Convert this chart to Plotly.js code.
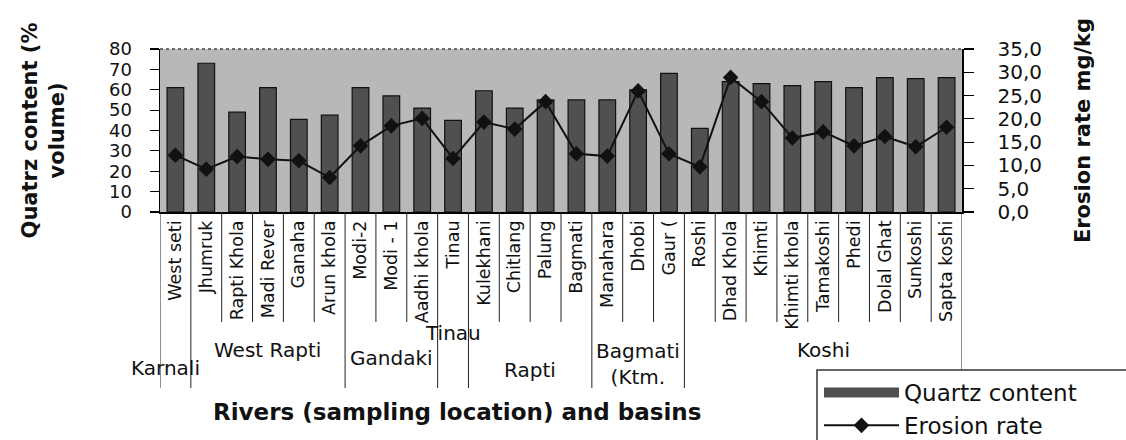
<!DOCTYPE html>
<html>
<head>
<meta charset="utf-8">
<script src="https://cdn.plot.ly/plotly-3.0.1.min.js"></script>
<style>
  html, body { margin: 0; padding: 0; background: #fff; }
  #chart { width: 1126px; height: 440px; }
</style>
</head>
<body>
<div id="chart"></div>
<script>
// Sampling locations, left to right
const rivers = [
  'West seti', 'Jhumruk', 'Rapti Khola', 'Madi Rever', 'Ganaha', 'Arun khola',
  'Modi-2', 'Modi - 1', 'Aadhi khola', 'Tinau', 'Kulekhani', 'Chitlang',
  'Palung', 'Bagmati', 'Manahara', 'Dhobi', 'Gaur (', 'Roshi', 'Dhad Khola',
  'Khimti', 'Khimti khola', 'Tamakoshi', 'Phedi', 'Dolal Ghat', 'Sunkoshi',
  'Sapta koshi'
];

// Quartz content, % volume
const quartzContent = [
  61, 73, 49, 61, 45.5, 47.5,
  61, 57, 51, 45, 59.5, 51,
  55, 55, 55, 60, 68, 41, 64,
  63, 62, 64, 61, 66, 65.5,
  66
];

// Erosion rate, mg/kg
const erosionRate = [
  12.2, 9.2, 11.9, 11.3, 11.0, 7.4,
  14.2, 18.5, 20.1, 11.5, 19.3, 17.8,
  23.7, 12.5, 12.0, 26.0, 12.5, 9.7, 28.9,
  23.7, 15.9, 17.2, 14.2, 16.2, 14.0,
  18.2
];

// Basins and how many consecutive locations belong to each
const basinNames = ['Karnali', 'West Rapti', 'Gandaki', 'Tinau', 'Rapti', 'Bagmati<br>(Ktm.', 'Koshi'];
const basinSizes = [1, 5, 3, 1, 4, 3, 9];

// Right-axis ticks
const erosionTicks = [0, 5, 10, 15, 20, 25, 30, 35];

// ---- layout geometry (pixels) ----
const W = 1126, H = 440;
const M = { l: 160, r: 164, t: 49, b: 228, autoexpand: false };
const plotH = H - M.t - M.b;
const plotW = W - M.l - M.r;
const bottomPx = H - M.b;
const pyToPaper = py => (bottomPx - py) / plotH;
const pxToPaper = px => (px - M.l) / plotW;

// basin label placement (label centre y in px, horizontal shift in px)
const basinLabelY = [368, 350, 358, 333, 370, 364, 350];
const basinLabelShift = [-10, 0, 0, 0, 0, 0, 0];

const FONT = 'DejaVu Sans, Arial, sans-serif';
const INK = '#111';

// basin boundaries as category-boundary indices
const boundaries = [0];
basinSizes.forEach(n => boundaries.push(boundaries[boundaries.length - 1] + n));

const shapes = [];
// short separators between neighbouring locations
for (let k = 1; k < rivers.length; k++) {
  if (boundaries.includes(k)) continue;
  shapes.push({
    type: 'line', xref: 'x', yref: 'paper',
    x0: k - 0.5, x1: k - 0.5, y0: 0, y1: pyToPaper(322),
    line: { color: '#222', width: 1 }
  });
}
// long separators between basins
boundaries.forEach(k => {
  shapes.push({
    type: 'line', xref: 'x', yref: 'paper',
    x0: k - 0.5, x1: k - 0.5, y0: 0, y1: pyToPaper(388),
    line: { color: '#222', width: 1 }
  });
});
// dotted frame along the top of the plot area
shapes.push({
  type: 'line', xref: 'paper', yref: 'paper', x0: 0, x1: 1, y0: 1, y1: 1,
  line: { color: '#444', width: 1.5, dash: 'dot' }
});
// legend frame
shapes.push({
  type: 'rect', xref: 'paper', yref: 'paper',
  x0: pxToPaper(817), x1: pxToPaper(1160), y0: pyToPaper(470), y1: pyToPaper(370),
  fillcolor: '#fff', line: { color: '#333', width: 1.5 }
});

const annotations = [];
let start = 0;
basinNames.forEach((name, i) => {
  const end = start + basinSizes[i] - 1;
  annotations.push({
    text: name, xref: 'x', yref: 'paper',
    x: (start + end) / 2, y: pyToPaper(basinLabelY[i]),
    xshift: basinLabelShift[i],
    xanchor: 'center', yanchor: 'middle', showarrow: false,
    font: { family: FONT, size: 20, color: INK }
  });
  start = end + 1;
});
annotations.push({
  text: 'Rivers (sampling location) and basins',
  xref: 'paper', yref: 'paper', x: pxToPaper(457), y: pyToPaper(412),
  xanchor: 'center', yanchor: 'middle', showarrow: false,
  font: { family: FONT, size: 23, color: INK, weight: 'bold' }
});

const traces = [
  {
    type: 'bar', name: 'Quartz content', x: rivers, y: quartzContent,
    marker: { color: '#505050', line: { color: '#111', width: 1.2 } },
    showlegend: false, legendgroup: 'q'
  },
  {
    // legend key for the bars, drawn as a wide swatch
    type: 'scatter', mode: 'lines', name: 'Quartz content', x: [null], y: [null],
    line: { color: '#505050', width: 12 }, legendgroup: 'q', hoverinfo: 'skip'
  },
  {
    type: 'scatter', mode: 'lines+markers', name: 'Erosion rate',
    x: rivers, y: erosionRate, yaxis: 'y2',
    line: { color: '#111', width: 2 },
    marker: { symbol: 'diamond', size: 12, color: '#111' },
    legendgroup: 'e'
  }
];

const layout = {
  width: W, height: H,
  margin: M,
  paper_bgcolor: '#fff',
  plot_bgcolor: '#b8b8b8',
  separators: ',.',
  bargap: 0.46,
  showlegend: true,
  legend: {
    x: pxToPaper(819), y: pyToPaper(371), xanchor: 'left', yanchor: 'top',
    bgcolor: 'rgba(0,0,0,0)', borderwidth: 0,
    font: { family: FONT, size: 23, color: INK },
    itemwidth: 75, traceorder: 'grouped', tracegroupgap: 0
  },
  xaxis: {
    type: 'category', categoryorder: 'array', categoryarray: rivers,
    range: [-0.5, rivers.length - 0.5],
    tickangle: -90, ticks: '',
    tickfont: { family: FONT, size: 17.5, color: INK },
    showline: true, linecolor: '#000', linewidth: 1.5,
    showgrid: false, zeroline: false, fixedrange: true
  },
  yaxis: {
    range: [0, 80], dtick: 10, ticks: 'outside', ticklen: 9, tickwidth: 1.2, tickcolor: '#000',
    ticklabelstandoff: 14,
    tickfont: { family: FONT, size: 18, color: INK },
    showline: true, linecolor: '#000', linewidth: 1.5,
    showgrid: false, zeroline: false, fixedrange: true,
    title: {
      text: 'Quatrz content (%<br>volume)', standoff: 38,
      font: { family: FONT, size: 21, color: INK, weight: 'bold' }
    }
  },
  yaxis2: {
    overlaying: 'y', side: 'right',
    range: [0, 35], tickvals: erosionTicks, tickformat: '.1f',
    ticks: 'outside', ticklen: 10, tickwidth: 1.2, tickcolor: '#000',
    ticklabelstandoff: 20,
    tickfont: { family: FONT, size: 20, color: INK },
    showline: true, linecolor: '#000', linewidth: 1.5,
    showgrid: false, zeroline: false, fixedrange: true,
    title: {
      text: 'Erosion rate mg/kg', standoff: 34,
      font: { family: FONT, size: 21, color: INK, weight: 'bold' }
    }
  },
  yaxis3: {
    overlaying: 'y', side: 'left', anchor: 'x',
    range: [0, 80], dtick: 10, ticks: 'inside', ticklen: 9, tickwidth: 1.2, tickcolor: '#000',
    showticklabels: false, showline: false, showgrid: false, zeroline: false, fixedrange: true
  },
  shapes: shapes,
  annotations: annotations
};

Plotly.newPlot('chart', traces, layout, { staticPlot: true, displayModeBar: false });
</script>
</body>
</html>
